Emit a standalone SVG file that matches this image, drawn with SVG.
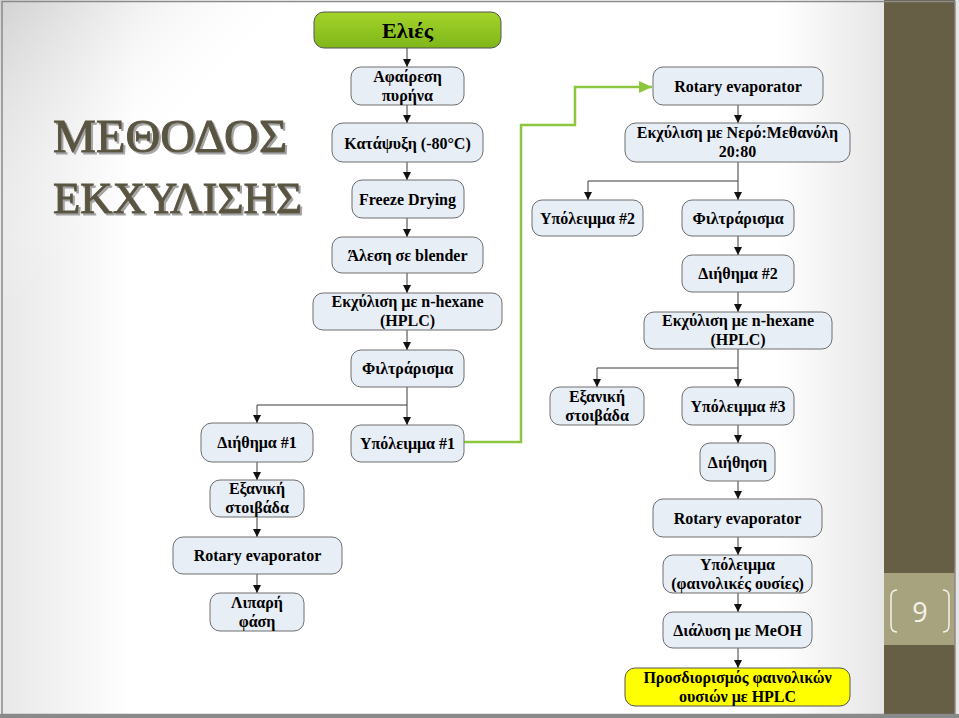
<svg xmlns="http://www.w3.org/2000/svg" width="959" height="718" viewBox="0 0 959 718">
<style>
.n{fill:#e8eef6;stroke:#6e6e6e;stroke-width:1}
.t{font-weight:bold;font-size:16px;fill:#000;text-anchor:middle}
.big{font-size:22px}
.c{fill:none;stroke:#3a3a3a;stroke-width:1}
.g{fill:none;stroke:#8cc63f;stroke-width:2.5}
</style>
<defs>
<marker id="ah" markerUnits="userSpaceOnUse" markerWidth="9" markerHeight="9" viewBox="0 0 9 9" refX="8" refY="4.5" orient="auto">
<path d="M0,0.5 L8,4.5 L0,8.5 Z" fill="#111"/>
</marker>
<marker id="gah" markerUnits="userSpaceOnUse" markerWidth="14" markerHeight="14" viewBox="0 0 14 14" refX="13" refY="7" orient="auto">
<path d="M0,1 L13,7 L0,13 Z" fill="#8cc63f"/>
</marker>
<linearGradient id="bgh" x1="0" y1="0" x2="884" y2="0" gradientUnits="userSpaceOnUse">
<stop offset="0" stop-color="#e8e8e8"/>
<stop offset="0.15" stop-color="#ffffff"/>
<stop offset="0.88" stop-color="#ffffff"/>
<stop offset="1" stop-color="#e6e6e6"/>
</linearGradient>
<linearGradient id="bgd" x1="0" y1="0" x2="160" y2="160" gradientUnits="userSpaceOnUse">
<stop offset="0" stop-color="#d2d2d2"/>
<stop offset="1" stop-color="#ffffff" stop-opacity="0"/>
</linearGradient>
<linearGradient id="grn" x1="0" y1="0" x2="0" y2="1">
<stop offset="0" stop-color="#a4d42a"/>
<stop offset="1" stop-color="#7fb61a"/>
</linearGradient>
<filter id="sh" x="-10%" y="-10%" width="120%" height="130%">
<feDropShadow dx="2" dy="2" stdDeviation="0.7" flood-color="#9a9a9a" flood-opacity="0.9"/>
</filter>
</defs>

<!-- background -->
<rect x="0" y="0" width="959" height="718" fill="#ffffff"/>
<rect x="0" y="0" width="884" height="718" fill="url(#bgh)"/>
<rect x="0" y="0" width="300" height="300" fill="url(#bgd)"/>
<rect x="884" y="0" width="71" height="718" fill="#665e45"/>
<rect x="955" y="0" width="4" height="718" fill="#e6e6e6"/>
<rect x="884" y="573" width="71" height="72" fill="#a8a37f"/>
<rect x="2" y="1.5" width="953" height="713" fill="none" stroke="#8a8a8a" stroke-width="1.5"/>
<rect x="0" y="714" width="959" height="4" fill="#8a8a8a"/>

<!-- title -->
<g id="title" filter="url(#sh)" fill="#5a5440" stroke="#5a5440" stroke-width="0.9" font-family="Liberation Serif, serif">
<text x="53" y="152" font-size="47" textLength="234" lengthAdjust="spacingAndGlyphs">ΜΕΘΟΔΟΣ</text>
<text x="53" y="213" font-size="45" textLength="249" lengthAdjust="spacingAndGlyphs">ΕΚΧΥΛΙΣΗΣ</text>
</g>

<!-- page number -->
<g id="pagenum">
<path d="M897,590 Q891,590 891,597 L891,625 Q891,632 897,632" fill="none" stroke="#f4f2ea" stroke-width="1.5"/>
<path d="M943,590 Q949,590 949,597 L949,625 Q949,632 943,632" fill="none" stroke="#f4f2ea" stroke-width="1.5"/>
<text x="920" y="622" font-family="Open Sans, DejaVu Sans, sans-serif" font-size="27" fill="#f4f2ea" text-anchor="middle">9</text>
</g>

<!-- connectors -->
<g id="connectors">
<path class="c" d="M407,48 V67" marker-end="url(#ah)"/>
<path class="c" d="M407,105 V123" marker-end="url(#ah)"/>
<path class="c" d="M407,162 V180" marker-end="url(#ah)"/>
<path class="c" d="M407,218 V237" marker-end="url(#ah)"/>
<path class="c" d="M407,273 V293" marker-end="url(#ah)"/>
<path class="c" d="M407,330 V350" marker-end="url(#ah)"/>
<path class="c" d="M407,387 V425" marker-end="url(#ah)"/>
<path class="c" d="M407,405 H257 V423" marker-end="url(#ah)"/>
<path class="c" d="M257,462 V480" marker-end="url(#ah)"/>
<path class="c" d="M257,517 V537" marker-end="url(#ah)"/>
<path class="c" d="M257,574 V593" marker-end="url(#ah)"/>
<path class="g" d="M464,442 H521 V125 H575 V87 H652" marker-end="url(#gah)"/>
<path class="c" d="M738,105 V123" marker-end="url(#ah)"/>
<path class="c" d="M738,162 V200" marker-end="url(#ah)"/>
<path class="c" d="M738,181 H588 V200" marker-end="url(#ah)"/>
<path class="c" d="M738,236 V255" marker-end="url(#ah)"/>
<path class="c" d="M738,292 V312" marker-end="url(#ah)"/>
<path class="c" d="M738,349 V387" marker-end="url(#ah)"/>
<path class="c" d="M738,368 H597 V387" marker-end="url(#ah)"/>
<path class="c" d="M738,425 V443" marker-end="url(#ah)"/>
<path class="c" d="M738,481 V499" marker-end="url(#ah)"/>
<path class="c" d="M738,537 V555" marker-end="url(#ah)"/>
<path class="c" d="M738,593 V612" marker-end="url(#ah)"/>
<path class="c" d="M738,648 V668" marker-end="url(#ah)"/>
</g>

<!-- nodes -->
<g id="nodes" font-family="Liberation Serif, Times New Roman, serif">
<g id="n-elies"><rect x="314" y="12" width="187" height="36" rx="10" fill="url(#grn)" stroke="#555" stroke-width="1"/><text class="t big" x="407.5" y="38">Ελιές</text></g>
<g id="n-afairesi"><rect class="n" x="351" y="67" width="113" height="38" rx="10"/><text class="t" x="407.5" y="82">Αφαίρεση<tspan x="407.5" dy="18.5">πυρήνα</tspan></text></g>
<g id="n-katapsyxi"><rect class="n" x="332" y="123" width="151" height="39" rx="11"/><text class="t" x="407.5" y="149">Κατάψυξη (-80°C)</text></g>
<g id="n-freeze"><rect class="n" x="352" y="180" width="112" height="38" rx="10"/><text class="t" x="407.5" y="205">Freeze Drying</text></g>
<g id="n-alesi"><rect class="n" x="332" y="237" width="151" height="36" rx="10"/><text class="t" x="407.5" y="261">Άλεση σε blender</text></g>
<g id="n-hexane1"><rect class="n" x="313" y="293" width="189" height="37" rx="10"/><text class="t" x="407.5" y="307">Εκχύλιση με n-hexane<tspan x="407.5" dy="18.5">(HPLC)</tspan></text></g>
<g id="n-filtr1"><rect class="n" x="351" y="350" width="113" height="37" rx="10"/><text class="t" x="407.5" y="374">Φιλτράρισμα</text></g>
<g id="n-ypol1"><rect class="n" x="351" y="425" width="113" height="37" rx="10"/><text class="t" x="407.5" y="449">Υπόλειμμα #1</text></g>
<g id="n-diithima1"><rect class="n" x="201" y="423" width="112" height="39" rx="11"/><text class="t" x="257" y="448">Διήθημα #1</text></g>
<g id="n-exaniki1"><rect class="n" x="210" y="480" width="94" height="37" rx="10"/><text class="t" x="257" y="494">Εξανική<tspan x="257" dy="18.5">στοιβάδα</tspan></text></g>
<g id="n-rotary1"><rect class="n" x="173" y="537" width="169" height="37" rx="10"/><text class="t" x="257.5" y="561">Rotary evaporator</text></g>
<g id="n-lipari"><rect class="n" x="210" y="593" width="94" height="38" rx="10"/><text class="t" x="257" y="608">Λιπαρή<tspan x="257" dy="18.5">φάση</tspan></text></g>
<g id="n-rotary2"><rect class="n" x="653" y="67" width="170" height="38" rx="10"/><text class="t" x="738" y="92">Rotary evaporator</text></g>
<g id="n-nero"><rect class="n" x="625" y="123" width="225" height="39" rx="11"/><text class="t" x="737.5" y="138">Εκχύλιση με Νερό:Μεθανόλη<tspan x="737.5" dy="18.5">20:80</tspan></text></g>
<g id="n-ypol2"><rect class="n" x="532" y="200" width="111" height="36" rx="10"/><text class="t" x="587.5" y="224">Υπόλειμμα #2</text></g>
<g id="n-filtr2"><rect class="n" x="682" y="200" width="112" height="36" rx="10"/><text class="t" x="738" y="224">Φιλτράρισμα</text></g>
<g id="n-diithima2"><rect class="n" x="682" y="255" width="112" height="37" rx="10"/><text class="t" x="738" y="279">Διήθημα #2</text></g>
<g id="n-hexane2"><rect class="n" x="644" y="312" width="188" height="37" rx="10"/><text class="t" x="738" y="326">Εκχύλιση με n-hexane<tspan x="738" dy="18.5">(HPLC)</tspan></text></g>
<g id="n-exaniki2"><rect class="n" x="550" y="387" width="94" height="38" rx="10"/><text class="t" x="597" y="402">Εξανική<tspan x="597" dy="18.5">στοιβάδα</tspan></text></g>
<g id="n-ypol3"><rect class="n" x="682" y="387" width="112" height="38" rx="10"/><text class="t" x="738" y="412">Υπόλειμμα #3</text></g>
<g id="n-diithisi"><rect class="n" x="700" y="443" width="75" height="38" rx="10"/><text class="t" x="737.5" y="468">Διήθηση</text></g>
<g id="n-rotary3"><rect class="n" x="653" y="499" width="169" height="38" rx="10"/><text class="t" x="737.5" y="524">Rotary evaporator</text></g>
<g id="n-ypol4"><rect class="n" x="663" y="555" width="149" height="38" rx="10"/><text class="t" x="737.5" y="570">Υπόλειμμα<tspan x="737.5" dy="18.5">(φαινολικές ουσίες)</tspan></text></g>
<g id="n-dialysi"><rect class="n" x="663" y="612" width="149" height="36" rx="10"/><text class="t" x="737.5" y="636">Διάλυση με MeOH</text></g>
<g id="n-hplc"><rect x="625" y="668" width="225" height="38" rx="10" fill="#ffff00" stroke="#555" stroke-width="1"/><text class="t" x="737.5" y="683">Προσδιορισμός φαινολικών<tspan x="737.5" dy="18.5">ουσιών με HPLC</tspan></text></g>
</g>
</svg>
